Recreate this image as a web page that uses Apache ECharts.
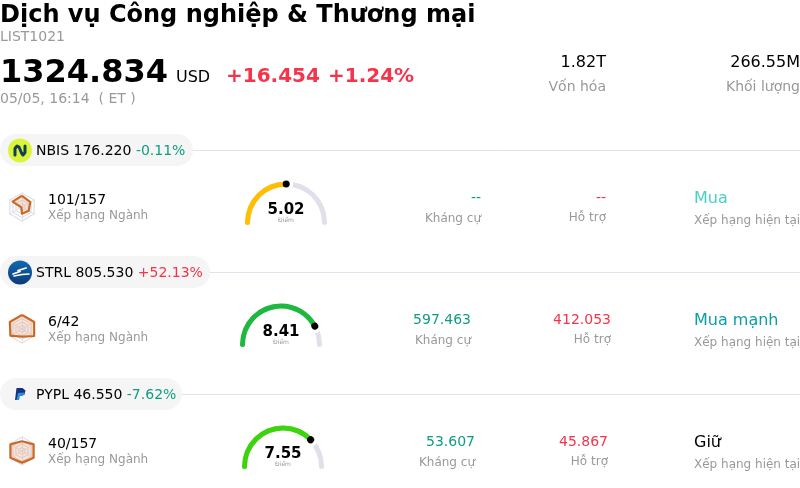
<!DOCTYPE html>
<html>
	<head>
		<meta charset="utf-8" />
		<title>Dịch vụ Công nghiệp & Thương mại</title>
		<script src="https://cdn.jsdelivr.net/npm/echarts@6/dist/echarts.min.js"></script>
		<style>
			html, body { margin: 0; padding: 0; background: #fff; }
			#main { width: 800px; height: 488px; }
		</style>
	</head>
	<body>
		<div id="main"></div>
	<script>
	// header data
	var sectorName = 'Dịch vụ Công nghiệp & Thương mại';
	var sectorCode = 'LIST1021';
	var lastPrice = '1324.834';
	var currency = 'USD';
	var priceChange = '+16.454';
	var pctChange = '+1.24%';
	var timeStr = '05/05, 16:14  ( ET )';
	var marketCap = '1.82T';
	var volume = '266.55M';

	// stock rows
	var tickers = ['NBIS', 'STRL', 'PYPL'];
	var prices = ['176.220', '805.530', '46.550'];
	var changes = ['-0.11%', '+52.13%', '-7.62%'];
	var ranks = ['101/157', '6/42', '40/157'];
	var scores = [5.02, 8.41, 7.55];
	var resistances = ['--', '597.463', '53.607'];
	var supports = ['--', '412.053', '45.867'];
	var ratings = ['Mua', 'Mua mạnh', 'Giữ'];
	// radar icon values: top, upper left, lower left, bottom, lower right, upper right
	var radarNames = ['a', 'b', 'c', 'd', 'e', 'f'];
	var radarValues = [
		[8, 7.7, 0.5, 4.8, 5.5, 6.8],
		[10, 10, 9.5, 5.5, 10, 10],
		[7, 9.5, 9.5, 8.3, 9.5, 9.5]
	];

	var FONT = '"DejaVu Sans", sans-serif';
	var UP = '#f5334a', DOWN = '#0f9d82', GRAY = '#999999', LINE = '#e2e2ee';
	var rowTop = [134, 256, 378];
	var pillWidth = [193, 210, 182];
	var gaugeX = [286, 281, 283];
	var gaugeColor = ['#ffbf00', '#1db83f', '#3cd40a'];
	var resistRight = [481, 471, 475];
	var supportRight = [606, 611, 608];
	var ratingColor = ['#4ad0c4', '#0a9eaa', '#000000'];

	function txt(s, x, y, size, color, align, weight){
		return {
			type: 'text',
			z: 10,
			style: {
				text: s, x: x, y: y + 1,
				font: (weight || 'normal') + ' ' + size + 'px ' + FONT,
				fill: color,
				align: align || 'left',
				verticalAlign: 'middle'
			}
		};
	}

	var graphics = [
		txt(sectorName, 0, 15, 24, '#000', 'left', 'bold'),
		txt(sectorCode, 0, 36, 14, GRAY),
		txt(lastPrice, 0, 73, 32, '#000', 'left', 'bold'),
		txt(currency, 176, 76.5, 16, '#000'),
		txt(priceChange, 226, 76, 20, UP, 'left', 'bold'),
		txt(pctChange, 328, 76, 20, UP, 'left', 'bold'),
		txt(timeStr, 0, 98, 14, GRAY),
		txt(marketCap, 606, 62, 16, '#000', 'right'),
		txt('Vốn hóa', 606, 86, 14, GRAY, 'right'),
		txt(volume, 800, 62, 16, '#000', 'right'),
		txt('Khối lượng', 800, 86, 14, GRAY, 'right')
	];

	var radars = [];
	var series = [];

	for (var i = 0; i < tickers.length; i++) {
		var rowY = rowTop[i];
		var isUp = changes[i].charAt(0) == '+';
		graphics.push({
			type: 'line', z: 1,
			shape: {x1: pillWidth[i], y1: rowY + 16.5, x2: 800, y2: rowY + 16.5},
			style: {stroke: LINE, lineWidth: 1}
		});
		graphics.push({
			type: 'rect', z: 2,
			shape: {x: 0, y: rowY, width: pillWidth[i], height: 32, r: 16},
			style: {fill: '#f5f5f6'}
		});
		graphics.push({
			type: 'text', z: 10,
			style: {
				x: 36, y: rowY + 17.5,
				verticalAlign: 'middle',
				font: '14px ' + FONT,
				text: '{a|' + tickers[i] + ' ' + prices[i] + ' }{b|' + changes[i] + '}',
				rich: {
					a: {fill: '#000', font: '14px ' + FONT},
					b: {fill: isUp ? UP : DOWN, font: '14px ' + FONT}
				}
			}
		});

		graphics.push(txt(ranks[i], 48, rowY + 65.5, 14, '#000'));
		graphics.push(txt('Xếp hạng Ngành', 48, rowY + 81, 12, GRAY));
		graphics.push(txt(resistances[i], resistRight[i], rowY + 63, 14, DOWN, 'right'));
		graphics.push(txt('Kháng cự', resistRight[i], rowY + 83.5, 12, GRAY, 'right'));
		graphics.push(txt(supports[i], supportRight[i], rowY + 63, 14, UP, 'right'));
		graphics.push(txt('Hỗ trợ', supportRight[i], rowY + 83, 12, GRAY, 'right'));
		graphics.push(txt(ratings[i], 694, rowY + 64, 16, ratingColor[i]));
		graphics.push(txt('Xếp hạng hiện tại', 694, rowY + 85.5, 12, GRAY));

		radars.push({
			center: [22, rowY + 73],
			radius: 14,
			splitNumber: 4,
			indicator: radarNames.map(function(n){ return {name: n, max: 10}; }),
			axisName: {show: false},
			axisLine: {lineStyle: {color: '#dcdce8', width: 0.8}},
			splitLine: {lineStyle: {color: '#d6d6e4', width: 1}},
			splitArea: {show: false}
		});
		series.push({
			type: 'radar',
			radarIndex: i,
			symbol: 'none',
			silent: true,
			lineStyle: {color: '#c8641e', width: 2.2},
			areaStyle: {color: '#e8955f', opacity: 0.25},
			data: [{value: radarValues[i]}]
		});

		series.push({
			type: 'gauge',
			center: [gaugeX[i], rowY + 88.5],
			radius: 41,
			startAngle: 180,
			endAngle: 0,
			min: 0,
			max: 10,
			silent: true,
			progress: {show: true, width: 5, roundCap: true, itemStyle: {color: gaugeColor[i]}},
			axisLine: {roundCap: true, lineStyle: {width: 5, color: [[1, '#e0e0ea']]}},
			splitLine: {show: false},
			axisTick: {show: false},
			axisLabel: {show: false},
			anchor: {show: false},
			// white halo that opens the gap round the knob
			pointer: {
				icon: 'circle',
				length: 14,
				width: 14,
				offsetCenter: [0, -31.5],
				itemStyle: {color: '#fff'}
			},
			title: {offsetCenter: [0, -2.5], fontSize: 6, color: GRAY, fontFamily: FONT},
			detail: {
				offsetCenter: [0, -12.5],
				fontSize: 15,
				fontWeight: 'bold',
				color: '#000',
				fontFamily: FONT,
				formatter: function(v){ return v.toFixed(2); }
			},
			data: [{value: scores[i], name: 'Điểm'}]
		});
		// black knob on top
		series.push({
			type: 'gauge',
			z: 5,
			center: [gaugeX[i], rowY + 88.5],
			radius: 41,
			startAngle: 180,
			endAngle: 0,
			min: 0,
			max: 10,
			silent: true,
			axisLine: {show: false},
			splitLine: {show: false},
			axisTick: {show: false},
			axisLabel: {show: false},
			anchor: {show: false},
			pointer: {
				icon: 'circle',
				length: 7,
				width: 7,
				offsetCenter: [0, -35],
				itemStyle: {color: '#000'}
			},
			title: {show: false},
			detail: {show: false},
			data: [{value: scores[i]}]
		});
	}

	// small logos
	graphics.push({type: 'circle', z: 5, shape: {cx: 20, cy: 150.5, r: 12}, style: {fill: '#dcf53a'}});
	graphics.push({
		type: 'polyline', z: 6,
		shape: {points: [[15, 155], [15, 148.5], [17, 146], [19, 147], [21.5, 153], [23, 155], [25, 152.5], [25, 146]]},
		style: {stroke: '#123f52', lineWidth: 3, fill: null, lineCap: 'round', lineJoin: 'round'}
	});
	graphics.push({
		type: 'circle', z: 5,
		shape: {cx: 20, cy: 272.5, r: 12},
		style: {
			fill: new echarts.graphic.LinearGradient(0, 0, 0, 1, [
				{offset: 0, color: '#0f6cb0'},
				{offset: 1, color: '#0d3a78'}
			])
		}
	});
	graphics.push({
		type: 'polyline', z: 6,
		shape: {points: [[13, 274], [20, 271.5], [18, 270.5], [26, 268]]},
		style: {stroke: '#fff', lineWidth: 1.8, fill: null, lineCap: 'round', lineJoin: 'round'}
	});
	graphics.push({
		type: 'polyline', z: 6,
		shape: {points: [[14, 276], [22, 274.5], [29, 274]]},
		style: {stroke: '#fff', lineWidth: 1.5, fill: null, lineCap: 'round'}
	});
	graphics.push({
		type: 'polygon', z: 6,
		shape: {points: [[16.5, 388], [22.5, 388], [25.5, 390.5], [24.5, 394.5], [21.5, 396], [19.5, 396], [19, 400], [15, 400]]},
		style: {fill: '#15337e'}
	});
	graphics.push({
		type: 'polygon', z: 7,
		shape: {points: [[18, 393], [24.5, 392.5], [24.5, 394.5], [21.5, 396], [19.5, 396], [19, 400], [16.5, 400]]},
		style: {fill: '#2a8fe0'}
	});

	var chart = echarts.init(document.getElementById('main'));
	chart.setOption({
		animation: false,
		radar: radars,
		series: series,
		graphic: {elements: graphics}
	});
	</script>
	</body>
</html>
